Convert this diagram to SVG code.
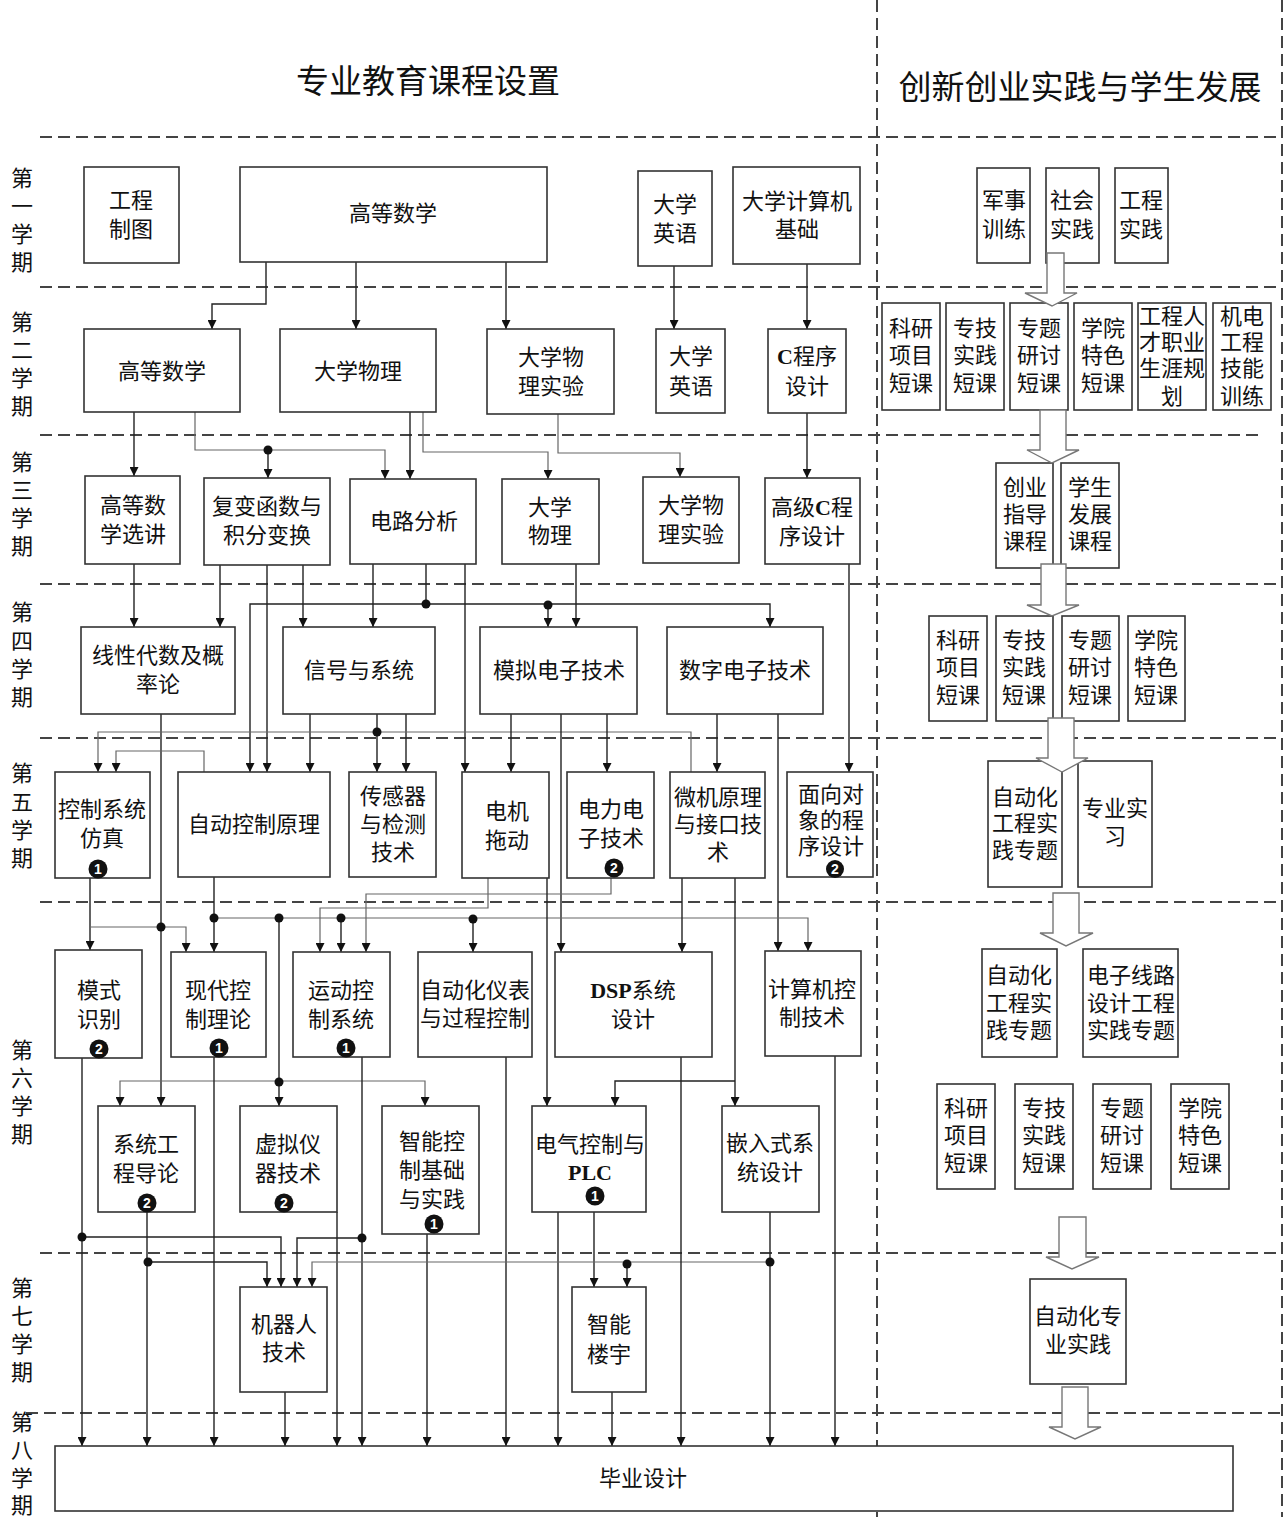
<svg xmlns="http://www.w3.org/2000/svg" width="1286" height="1517" viewBox="0 0 1286 1517">
<defs>
<marker id="a" viewBox="0 0 10 10" refX="10" refY="5" markerWidth="9" markerHeight="9" markerUnits="userSpaceOnUse" orient="auto"><path d="M0,0 L10,5 L0,10 z" fill="#111"/></marker>
<style>
.b{fill:#fff;stroke:#333;stroke-width:1.6}
.t{font-family:"Liberation Serif","Noto Sans CJK SC",serif;font-size:22px;text-anchor:middle;dominant-baseline:central;fill:#111}
.lab{font-family:"Liberation Serif","Noto Sans CJK SC",serif;font-size:22px;text-anchor:middle;dominant-baseline:central;fill:#111}
.ttl{font-family:"Liberation Serif","Noto Sans CJK SC",serif;font-size:33px;text-anchor:middle;dominant-baseline:central;fill:#111}
.c{fill:none;stroke:#222;stroke-width:1.4}
.g{fill:none;stroke:#666;stroke-width:1.2}
.ar{marker-end:url(#a)}
.d{fill:#111}
.dl{fill:none;stroke:#444;stroke-width:2;stroke-dasharray:12 6}
.ha{fill:#fff;stroke:#777;stroke-width:1.4}
.bd{fill:#111}
.bn{font-family:"Liberation Sans","DejaVu Sans",sans-serif;font-size:14px;font-weight:bold;fill:#fff;text-anchor:middle;dominant-baseline:central}
.bo{font-weight:bold}
</style>
</defs>
<rect width="1286" height="1517" fill="#fff"/>

<g id="grid">
<line class="dl" x1="40" y1="137" x2="1280" y2="137"/>
<line class="dl" x1="40" y1="287" x2="1280" y2="287"/>
<line class="dl" x1="40" y1="435" x2="1262" y2="435"/>
<line class="dl" x1="40" y1="584" x2="1280" y2="584"/>
<line class="dl" x1="40" y1="738" x2="1280" y2="738"/>
<line class="dl" x1="40" y1="902" x2="1280" y2="902"/>
<line class="dl" x1="40" y1="1253" x2="1280" y2="1253"/>
<line class="dl" x1="26" y1="1413" x2="1280" y2="1413"/>
<line class="dl" x1="877" y1="0" x2="877" y2="1517"/>
<line class="dl" x1="1282" y1="0" x2="1282" y2="1517"/>
</g>

<g id="titles">
<text class="ttl" x="428" y="82">专业教育课程设置</text>
<text class="ttl" x="1080" y="88">创新创业实践与学生发展</text>
</g>

<g id="semesters">
<text class="lab" x="22" y="178">第</text><text class="lab" x="22" y="206">一</text><text class="lab" x="22" y="234">学</text><text class="lab" x="22" y="262">期</text>
<text class="lab" x="22" y="322">第</text><text class="lab" x="22" y="350">二</text><text class="lab" x="22" y="378">学</text><text class="lab" x="22" y="406">期</text>
<text class="lab" x="22" y="462">第</text><text class="lab" x="22" y="490">三</text><text class="lab" x="22" y="518">学</text><text class="lab" x="22" y="546">期</text>
<text class="lab" x="22" y="612">第</text><text class="lab" x="22" y="641">四</text><text class="lab" x="22" y="669">学</text><text class="lab" x="22" y="697">期</text>
<text class="lab" x="22" y="773">第</text><text class="lab" x="22" y="802">五</text><text class="lab" x="22" y="830">学</text><text class="lab" x="22" y="858">期</text>
<text class="lab" x="22" y="1050">第</text><text class="lab" x="22" y="1078">六</text><text class="lab" x="22" y="1106">学</text><text class="lab" x="22" y="1134">期</text>
<text class="lab" x="22" y="1288">第</text><text class="lab" x="22" y="1316">七</text><text class="lab" x="22" y="1344">学</text><text class="lab" x="22" y="1372">期</text>
<text class="lab" x="22" y="1422">第</text><text class="lab" x="22" y="1450">八</text><text class="lab" x="22" y="1478">学</text><text class="lab" x="22" y="1505">期</text>
</g>

<g id="connectors">
<path class="c ar" d="M266,262 V304 H212 V329"/>
<path class="c ar" d="M356,262 V329"/>
<path class="c ar" d="M506,262 V329"/>
<path class="c ar" d="M674,266 V329"/>
<path class="c ar" d="M807,264 V329"/>
<path class="c ar" d="M134,412 V476"/>
<path class="g ar" d="M195,412 V450 H385 V479"/>
<path class="c ar" d="M268,450 V478"/>
<path class="c ar" d="M410,412 V479"/>
<path class="g ar" d="M423,412 V452 H548 V479"/>
<path class="g ar" d="M558,414 V453 H680 V477"/>
<path class="c ar" d="M807,413 V478"/>
<path class="c ar" d="M134,564 V627"/>
<path class="c ar" d="M220,565 V627"/>
<path class="c ar" d="M267,565 V772"/>
<path class="c ar" d="M303,565 V627"/>
<path class="c ar" d="M373,564 V627"/>
<path class="c" d="M426,564 V604"/>
<path class="c ar" d="M426,604 H250 V772"/>
<path class="c ar" d="M426,604 H770 V627"/>
<path class="c ar" d="M548,604 V627"/>
<path class="c ar" d="M465,564 V772"/>
<path class="c ar" d="M576,564 V627"/>
<path class="c ar" d="M849,564 V772"/>
<path class="c ar" d="M161,714 V1106"/>
<path class="c ar" d="M310,714 V772"/>
<path class="c ar" d="M377,714 V772"/>
<path class="c ar" d="M406,714 V772"/>
<path class="g ar" d="M691,772 V732 H98 V772"/>
<path class="g ar" d="M204,772 V751 H116 V772"/>
<path class="c ar" d="M511,714 V772"/>
<path class="c ar" d="M561,714 V952"/>
<path class="c ar" d="M607,714 V772"/>
<path class="c ar" d="M717,714 V772"/>
<path class="c ar" d="M778,714 V951"/>
<path class="c ar" d="M90,878 V950"/>
<path class="g ar" d="M90,927 H186 V952"/>
<path class="c ar" d="M214,877 V952"/>
<path class="g ar" d="M214,918 H808 V951"/>
<path class="c ar" d="M341,918 V952"/>
<path class="c ar" d="M473,918 V952"/>
<path class="c ar" d="M279,918 V1106"/>
<path class="g ar" d="M279,1081 H120 V1106"/>
<path class="g ar" d="M279,1081 H425 V1106"/>
<path class="g ar" d="M488,878 V908 H320 V952"/>
<path class="g ar" d="M611,878 V894 H366 V952"/>
<path class="c ar" d="M547,878 V1106"/>
<path class="c ar" d="M682,878 V952"/>
<path class="c ar" d="M735,878 V1106"/>
<path class="c ar" d="M735,1081 H615 V1106"/>
<path class="c ar" d="M82,1058 V1446"/>
<path class="c ar" d="M82,1237 H281 V1287"/>
<path class="c ar" d="M147,1212 V1446"/>
<path class="c ar" d="M147,1262 H267 V1287"/>
<path class="c ar" d="M214,1057 V1446"/>
<path class="c ar" d="M337,1212 V1446"/>
<path class="c ar" d="M362,1057 V1446"/>
<path class="c ar" d="M362,1238 H297 V1287"/>
<path class="c ar" d="M427,1234 V1446"/>
<path class="c ar" d="M506,1057 V1446"/>
<path class="c ar" d="M558,1212 V1446"/>
<path class="c ar" d="M594,1212 V1287"/>
<path class="c ar" d="M770,1212 V1446"/>
<path class="g ar" d="M770,1262 H312 V1287"/>
<path class="c ar" d="M627,1262 V1287"/>
<path class="c ar" d="M612,1392 V1446"/>
<path class="c ar" d="M681,1057 V1446"/>
<path class="c ar" d="M835,1056 V1446"/>
<path class="c ar" d="M285,1392 V1446"/>
<circle class="d" cx="268" cy="450" r="4.5"/>
<circle class="d" cx="426" cy="604" r="4.5"/>
<circle class="d" cx="548" cy="605" r="4.5"/>
<circle class="d" cx="377" cy="732" r="4.5"/>
<circle class="d" cx="161" cy="927" r="4.5"/>
<circle class="d" cx="214" cy="918" r="4.5"/>
<circle class="d" cx="279" cy="918" r="4.5"/>
<circle class="d" cx="341" cy="918" r="4.5"/>
<circle class="d" cx="473" cy="919" r="4.5"/>
<circle class="d" cx="279" cy="1082" r="4.5"/>
<circle class="d" cx="82" cy="1237" r="4.5"/>
<circle class="d" cx="148" cy="1262" r="4.5"/>
<circle class="d" cx="362" cy="1238" r="4.5"/>
<circle class="d" cx="627" cy="1264" r="4.5"/>
<circle class="d" cx="770" cy="1262" r="4.5"/>
</g>

<g id="n1"><rect class="b" x="84" y="167" width="95" height="96"/><text class="t" x="131" y="200">工程</text><text class="t" x="131" y="229">制图</text></g>
<g id="n2"><rect class="b" x="240" y="167" width="307" height="95"/><text class="t" x="393" y="213">高等数学</text></g>
<g id="n3"><rect class="b" x="638" y="171" width="74" height="95"/><text class="t" x="675" y="204">大学</text><text class="t" x="675" y="233">英语</text></g>
<g id="n4"><rect class="b" x="733" y="167" width="127" height="97"/><text class="t" x="797" y="201">大学计算机</text><text class="t" x="797" y="229">基础</text></g>
<g id="n5"><rect class="b" x="84" y="329" width="156" height="83"/><text class="t" x="162" y="371">高等数学</text></g>
<g id="n6"><rect class="b" x="280" y="329" width="156" height="83"/><text class="t" x="358" y="371">大学物理</text></g>
<g id="n7"><rect class="b" x="487" y="329" width="127" height="85"/><text class="t" x="551" y="357">大学物</text><text class="t" x="551" y="386">理实验</text></g>
<g id="n8"><rect class="b" x="656" y="329" width="69" height="84"/><text class="t" x="691" y="356">大学</text><text class="t" x="691" y="386">英语</text></g>
<g id="n9"><rect class="b" x="768" y="329" width="78" height="84"/><text class="t" x="807" y="356"><tspan class="bo">C</tspan>程序</text><text class="t" x="807" y="386">设计</text></g>
<g id="n10"><rect class="b" x="85" y="476" width="95" height="88"/><text class="t" x="133" y="505">高等数</text><text class="t" x="133" y="534">学选讲</text></g>
<g id="n11"><rect class="b" x="204" y="478" width="126" height="87"/><text class="t" x="267" y="506">复变函数与</text><text class="t" x="267" y="535">积分变换</text></g>
<g id="n12"><rect class="b" x="350" y="479" width="126" height="85"/><text class="t" x="414" y="521">电路分析</text></g>
<g id="n13"><rect class="b" x="502" y="479" width="97" height="85"/><text class="t" x="550" y="507">大学</text><text class="t" x="550" y="535">物理</text></g>
<g id="n14"><rect class="b" x="643" y="477" width="96" height="86"/><text class="t" x="691" y="505">大学物</text><text class="t" x="691" y="534">理实验</text></g>
<g id="n15"><rect class="b" x="765" y="478" width="95" height="86"/><text class="t" x="812" y="507">高级<tspan class="bo">C</tspan>程</text><text class="t" x="812" y="536">序设计</text></g>
<g id="n16"><rect class="b" x="81" y="627" width="154" height="87"/><text class="t" x="158" y="655">线性代数及概</text><text class="t" x="158" y="684">率论</text></g>
<g id="n17"><rect class="b" x="283" y="627" width="152" height="87"/><text class="t" x="359" y="670">信号与系统</text></g>
<g id="n18"><rect class="b" x="480" y="627" width="157" height="87"/><text class="t" x="559" y="670">模拟电子技术</text></g>
<g id="n19"><rect class="b" x="667" y="627" width="156" height="87"/><text class="t" x="745" y="670">数字电子技术</text></g>
<g id="n20"><rect class="b" x="55" y="772" width="95" height="106"/><text class="t" x="102" y="809">控制系统</text><text class="t" x="102" y="838">仿真</text><circle class="bd" cx="98" cy="869" r="9.5"/><text class="bn" x="98" y="869">1</text></g>
<g id="n21"><rect class="b" x="178" y="772" width="152" height="105"/><text class="t" x="254" y="824">自动控制原理</text></g>
<g id="n22"><rect class="b" x="349" y="772" width="87" height="105"/><text class="t" x="393" y="796">传感器</text><text class="t" x="393" y="824">与检测</text><text class="t" x="393" y="852">技术</text></g>
<g id="n23"><rect class="b" x="462" y="772" width="87" height="106"/><text class="t" x="507" y="811">电机</text><text class="t" x="507" y="840">拖动</text></g>
<g id="n24"><rect class="b" x="567" y="772" width="87" height="106"/><text class="t" x="611" y="809">电力电</text><text class="t" x="611" y="838">子技术</text><circle class="bd" cx="614" cy="868" r="9.5"/><text class="bn" x="614" y="868">2</text></g>
<g id="n25"><rect class="b" x="670" y="772" width="95" height="106"/><text class="t" x="718" y="797">微机原理</text><text class="t" x="718" y="824">与接口技</text><text class="t" x="718" y="852">术</text></g>
<g id="n26"><rect class="b" x="787" y="772" width="86" height="105"/><text class="t" x="831" y="794">面向对</text><text class="t" x="831" y="820">象的程</text><text class="t" x="831" y="846">序设计</text><circle class="bd" cx="835" cy="869" r="9"/><text class="bn" x="835" y="869">2</text></g>
<g id="n27"><rect class="b" x="55" y="950" width="87" height="108"/><text class="t" x="99" y="990">模式</text><text class="t" x="99" y="1019">识别</text><circle class="bd" cx="99" cy="1049" r="9.5"/><text class="bn" x="99" y="1049">2</text></g>
<g id="n28"><rect class="b" x="171" y="952" width="95" height="105"/><text class="t" x="218" y="990">现代控</text><text class="t" x="218" y="1019">制理论</text><circle class="bd" cx="219" cy="1048" r="9.5"/><text class="bn" x="219" y="1048">1</text></g>
<g id="n29"><rect class="b" x="293" y="952" width="97" height="105"/><text class="t" x="341" y="990">运动控</text><text class="t" x="341" y="1019">制系统</text><circle class="bd" cx="346" cy="1048" r="9.5"/><text class="bn" x="346" y="1048">1</text></g>
<g id="n30"><rect class="b" x="418" y="952" width="114" height="105"/><text class="t" x="475" y="990">自动化仪表</text><text class="t" x="475" y="1018">与过程控制</text></g>
<g id="n31"><rect class="b" x="555" y="952" width="157" height="105"/><text class="t" x="633" y="990"><tspan class="bo">DSP</tspan>系统</text><text class="t" x="633" y="1019">设计</text></g>
<g id="n32"><rect class="b" x="765" y="951" width="96" height="105"/><text class="t" x="812" y="989">计算机控</text><text class="t" x="812" y="1017">制技术</text></g>
<g id="n33"><rect class="b" x="98" y="1106" width="97" height="106"/><text class="t" x="146" y="1144">系统工</text><text class="t" x="146" y="1173">程导论</text><circle class="bd" cx="147" cy="1203" r="9.5"/><text class="bn" x="147" y="1203">2</text></g>
<g id="n34"><rect class="b" x="240" y="1106" width="97" height="106"/><text class="t" x="288" y="1144">虚拟仪</text><text class="t" x="288" y="1173">器技术</text><circle class="bd" cx="284" cy="1203" r="9.5"/><text class="bn" x="284" y="1203">2</text></g>
<g id="n35"><rect class="b" x="382" y="1106" width="97" height="128"/><text class="t" x="432" y="1141">智能控</text><text class="t" x="432" y="1170">制基础</text><text class="t" x="432" y="1199">与实践</text><circle class="bd" cx="434" cy="1224" r="9.5"/><text class="bn" x="434" y="1224">1</text></g>
<g id="n36"><rect class="b" x="532" y="1106" width="114" height="106"/><text class="t" x="590" y="1144">电气控制与</text><text class="t bo" x="590" y="1172">PLC</text><circle class="bd" cx="595" cy="1196" r="9.5"/><text class="bn" x="595" y="1196">1</text></g>
<g id="n37"><rect class="b" x="722" y="1106" width="97" height="106"/><text class="t" x="770" y="1143">嵌入式系</text><text class="t" x="770" y="1172">统设计</text></g>
<g id="n38"><rect class="b" x="240" y="1287" width="87" height="105"/><text class="t" x="284" y="1324">机器人</text><text class="t" x="284" y="1352">技术</text></g>
<g id="n39"><rect class="b" x="572" y="1287" width="74" height="105"/><text class="t" x="609" y="1324">智能</text><text class="t" x="609" y="1354">楼宇</text></g>
<g id="n40"><rect class="b" x="55" y="1446" width="1178" height="65"/><text class="t" x="643" y="1478">毕业设计</text></g>

<g id="r1"><rect class="b" x="977" y="168" width="53" height="95"/><text class="t" x="1004" y="200">军事</text><text class="t" x="1004" y="229">训练</text></g>
<g id="r2"><rect class="b" x="1046" y="168" width="53" height="95"/><text class="t" x="1072" y="200">社会</text><text class="t" x="1072" y="229">实践</text></g>
<g id="r3"><rect class="b" x="1115" y="168" width="53" height="95"/><text class="t" x="1141" y="200">工程</text><text class="t" x="1141" y="229">实践</text></g>
<g id="r4"><rect class="b" x="882" y="303" width="58" height="107"/><text class="t" x="911" y="328">科研</text><text class="t" x="911" y="355">项目</text><text class="t" x="911" y="383">短课</text></g>
<g id="r5"><rect class="b" x="946" y="303" width="58" height="107"/><text class="t" x="975" y="328">专技</text><text class="t" x="975" y="355">实践</text><text class="t" x="975" y="383">短课</text></g>
<g id="r6"><rect class="b" x="1010" y="303" width="58" height="107"/><text class="t" x="1039" y="328">专题</text><text class="t" x="1039" y="355">研讨</text><text class="t" x="1039" y="383">短课</text></g>
<g id="r7"><rect class="b" x="1074" y="303" width="58" height="107"/><text class="t" x="1103" y="328">学院</text><text class="t" x="1103" y="355">特色</text><text class="t" x="1103" y="383">短课</text></g>
<g id="r8"><rect class="b" x="1138" y="303" width="68" height="107"/><text class="t" x="1172" y="316">工程人</text><text class="t" x="1172" y="342">才职业</text><text class="t" x="1172" y="368">生涯规</text><text class="t" x="1172" y="396">划</text></g>
<g id="r9"><rect class="b" x="1213" y="303" width="58" height="107"/><text class="t" x="1242" y="316">机电</text><text class="t" x="1242" y="342">工程</text><text class="t" x="1242" y="368">技能</text><text class="t" x="1242" y="396">训练</text></g>
<g id="r10"><rect class="b" x="996" y="463" width="57" height="105"/><text class="t" x="1025" y="487">创业</text><text class="t" x="1025" y="514">指导</text><text class="t" x="1025" y="541">课程</text></g>
<g id="r11"><rect class="b" x="1061" y="463" width="58" height="105"/><text class="t" x="1090" y="487">学生</text><text class="t" x="1090" y="514">发展</text><text class="t" x="1090" y="541">课程</text></g>
<g id="r12"><rect class="b" x="929" y="616" width="58" height="105"/><text class="t" x="958" y="640">科研</text><text class="t" x="958" y="667">项目</text><text class="t" x="958" y="695">短课</text></g>
<g id="r13"><rect class="b" x="996" y="616" width="57" height="105"/><text class="t" x="1024" y="640">专技</text><text class="t" x="1024" y="667">实践</text><text class="t" x="1024" y="695">短课</text></g>
<g id="r14"><rect class="b" x="1062" y="616" width="57" height="105"/><text class="t" x="1090" y="640">专题</text><text class="t" x="1090" y="667">研讨</text><text class="t" x="1090" y="695">短课</text></g>
<g id="r15"><rect class="b" x="1128" y="616" width="57" height="105"/><text class="t" x="1156" y="640">学院</text><text class="t" x="1156" y="667">特色</text><text class="t" x="1156" y="695">短课</text></g>
<g id="r16"><rect class="b" x="988" y="761" width="74" height="126"/><text class="t" x="1025" y="797">自动化</text><text class="t" x="1025" y="823">工程实</text><text class="t" x="1025" y="850">践专题</text></g>
<g id="r17"><rect class="b" x="1078" y="761" width="74" height="126"/><text class="t" x="1115" y="808">专业实</text><text class="t" x="1115" y="836">习</text></g>
<g id="r18"><rect class="b" x="982" y="949" width="75" height="108"/><text class="t" x="1019" y="975">自动化</text><text class="t" x="1019" y="1003">工程实</text><text class="t" x="1019" y="1030">践专题</text></g>
<g id="r19"><rect class="b" x="1083" y="949" width="95" height="108"/><text class="t" x="1131" y="975">电子线路</text><text class="t" x="1131" y="1003">设计工程</text><text class="t" x="1131" y="1030">实践专题</text></g>
<g id="r20"><rect class="b" x="937" y="1084" width="58" height="105"/><text class="t" x="966" y="1108">科研</text><text class="t" x="966" y="1135">项目</text><text class="t" x="966" y="1163">短课</text></g>
<g id="r21"><rect class="b" x="1015" y="1084" width="58" height="105"/><text class="t" x="1044" y="1108">专技</text><text class="t" x="1044" y="1135">实践</text><text class="t" x="1044" y="1163">短课</text></g>
<g id="r22"><rect class="b" x="1093" y="1084" width="58" height="105"/><text class="t" x="1122" y="1108">专题</text><text class="t" x="1122" y="1135">研讨</text><text class="t" x="1122" y="1163">短课</text></g>
<g id="r23"><rect class="b" x="1171" y="1084" width="58" height="105"/><text class="t" x="1200" y="1108">学院</text><text class="t" x="1200" y="1135">特色</text><text class="t" x="1200" y="1163">短课</text></g>
<g id="r24"><rect class="b" x="1030" y="1279" width="96" height="105"/><text class="t" x="1078" y="1316">自动化专</text><text class="t" x="1078" y="1344">业实践</text></g>

<g id="flow-arrows">
<polygon class="ha" points="1047,253 1064,253 1064,293 1077,293 1052,306 1025,293 1047,293"/>
<polygon class="ha" points="1040,410 1066,410 1066,450 1079,450 1052,463 1027,450 1040,450"/>
<polygon class="ha" points="1041,564 1066,564 1066,605 1079,605 1052,616 1027,605 1041,605"/>
<polygon class="ha" points="1048,718 1074,718 1074,758 1088,758 1062,772 1036,758 1048,758"/>
<polygon class="ha" points="1053,893 1079,893 1079,933 1093,933 1066,946 1040,933 1053,933"/>
<polygon class="ha" points="1059,1217 1086,1217 1086,1257 1099,1257 1072,1269 1046,1257 1059,1257"/>
<polygon class="ha" points="1062,1387 1088,1387 1088,1427 1101,1427 1075,1439 1049,1427 1062,1427"/>
</g>
</svg>
